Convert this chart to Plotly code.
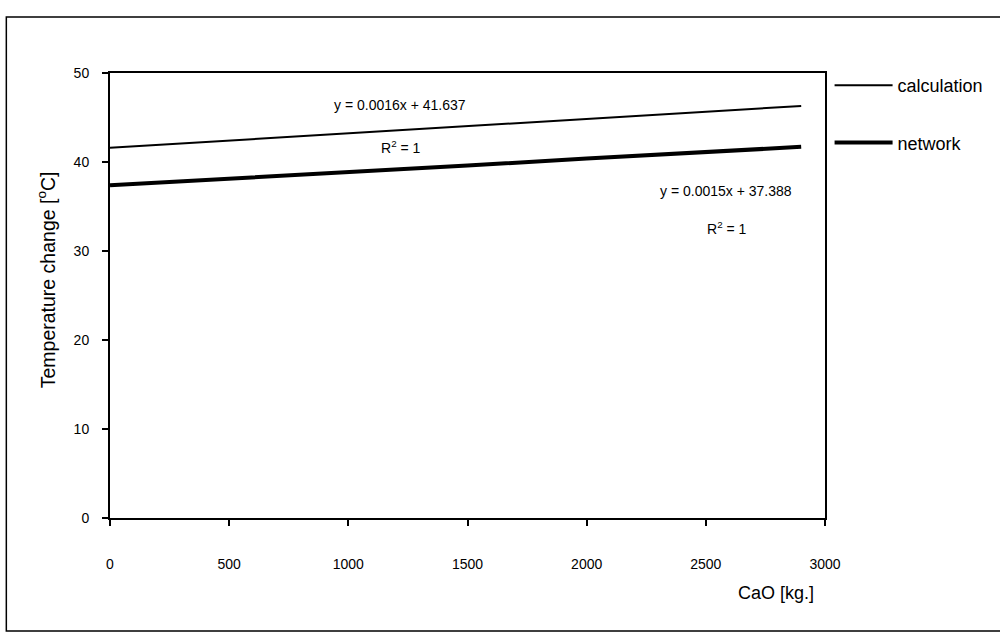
import plotly.graph_objects as go

# Data
cao_kg = [0, 500, 1000, 1500, 2000, 2500, 2900]
calc_temp = [41.6, 42.4, 43.2, 44.0, 44.8, 45.6, 46.3]
network_temp = [37.4, 38.1, 38.9, 39.6, 40.4, 41.1, 41.7]
x_ticks = [0, 500, 1000, 1500, 2000, 2500, 3000]
y_ticks = [0, 10, 20, 30, 40, 50]

FONT = "Liberation Sans, Arial, sans-serif"

fig = go.Figure()
fig.add_trace(go.Scatter(x=cao_kg, y=calc_temp, mode="lines", name="calculation",
                         line=dict(color="black", width=2), legendgroup="a"))
fig.add_trace(go.Scatter(x=cao_kg, y=network_temp, mode="lines", name="network",
                         line=dict(color="black", width=4), legendgroup="b"))

annos = [
    dict(x=1215, y=46.4, text="y = 0.0016x + 41.637"),
    dict(x=1222, y=41.7, text="R<sup>2</sup> = 1"),
    dict(x=2585, y=36.7, text="y = 0.0015x + 37.388"),
    dict(x=2590, y=32.6, text="R<sup>2</sup> = 1"),
]
for a in annos:
    fig.add_annotation(x=a["x"], y=a["y"], text=a["text"], showarrow=False,
                       font=dict(size=14, color="black", family=FONT))

# x axis title placed under the axis on the right
fig.add_annotation(x=2795, y=-0.169, xref="x", yref="paper", yanchor="middle",
                   text="CaO [kg.]", showarrow=False,
                   font=dict(size=18, color="black", family=FONT))

# y axis title (placed slightly above the plot centre as in the reference)
fig.add_annotation(x=-0.089, y=0.535, xref="paper", yref="paper",
                   xanchor="center", yanchor="middle", textangle=-90,
                   text="Temperature change [<sup>o</sup>C]", showarrow=False,
                   font=dict(size=19.5, color="black", family=FONT))

# outer frame
fig.add_shape(type="rect", xref="paper", yref="paper", x0=-0.145, x1=1.26,
              y0=-0.254, y1=1.126, line=dict(color="black", width=1.5))

fig.update_layout(
    width=1000, height=633,
    margin=dict(l=110, r=174, t=73, b=115),
    paper_bgcolor="white", plot_bgcolor="white",
    font=dict(family=FONT, color="black", size=14),
    legend=dict(x=1.005, y=1.0135, xanchor="left", yanchor="top",
                font=dict(size=18, color="black", family=FONT),
                tracegroupgap=31, traceorder="grouped", itemwidth=58,
                bgcolor="rgba(0,0,0,0)"),
    xaxis=dict(range=[0, 3000], tickvals=x_ticks, showgrid=False, zeroline=False,
               showline=True, linecolor="black", linewidth=2, mirror=True,
               ticks="outside", ticklen=6, tickcolor="black", tickwidth=1.5,
               ticklabelstandoff=26, tickfont=dict(size=14)),
    yaxis=dict(range=[0, 50], tickvals=y_ticks, showgrid=False, zeroline=False,
               showline=True, linecolor="black", linewidth=2, mirror=True,
               ticks="outside", ticklen=6, tickcolor="black", tickwidth=1.5,
               ticklabelstandoff=10, tickfont=dict(size=14)),
)

fig.write_html("out.html")
